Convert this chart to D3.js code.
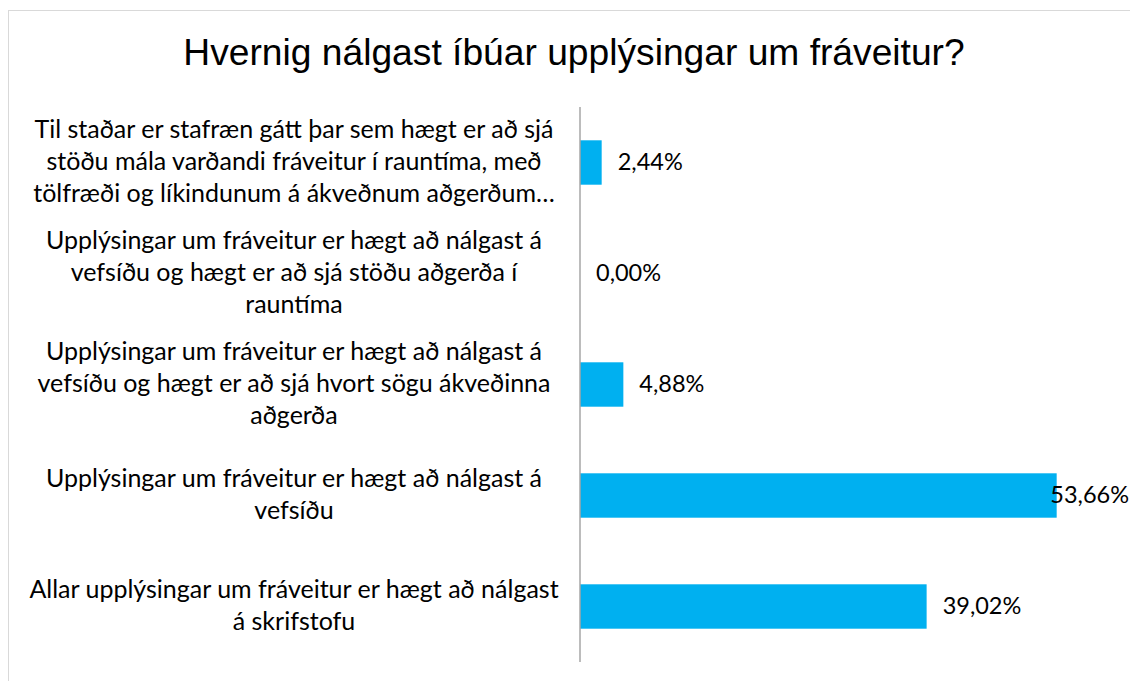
<!DOCTYPE html>
<html>
<head>
<meta charset="utf-8">
<script src="https://cdn.jsdelivr.net/npm/d3@7"></script>
<style>
  html, body { margin: 0; padding: 0; background: #fff; overflow: hidden; }
  svg { display: block; }
</style>
</head>
<body>
<svg id="chart" width="1130" height="681"></svg>
<script>
// Survey answers, one entry per answer option (top to bottom)
const categories = [
  ["Til staðar er stafræn gátt þar sem hægt er að sjá",
   "stöðu mála varðandi fráveitur í rauntíma, með",
   "tölfræði og líkindunum á ákveðnum aðgerðum…"],
  ["Upplýsingar um fráveitur er hægt að nálgast á",
   "vefsíðu og hægt er að sjá stöðu aðgerða í",
   "rauntíma"],
  ["Upplýsingar um fráveitur er hægt að nálgast á",
   "vefsíðu og hægt er að sjá hvort sögu ákveðinna",
   "aðgerða"],
  ["Upplýsingar um fráveitur er hægt að nálgast á",
   "vefsíðu"],
  ["Allar upplýsingar um fráveitur er hægt að nálgast",
   "á skrifstofu"]
];
const values = [2.44, 0.00, 4.88, 53.66, 39.02];
const valueLabels = ["2,44%", "0,00%", "4,88%", "53,66%", "39,02%"];
const xDomain = [0, 60];
const title = "Hvernig nálgast íbúar upplýsingar um fráveitur?";

const W = 1130, H = 681;
const svg = d3.select("#chart");

// chart frame (open to the right and bottom)
svg.append("rect")
  .attr("x", 8.5).attr("y", 10.5)
  .attr("width", W + 20).attr("height", H + 20)
  .attr("fill", "#fff").attr("stroke", "#d9d9d9").attr("stroke-width", 1);

svg.append("text")
  .attr("x", 574).attr("y", 65)
  .attr("text-anchor", "middle")
  .attr("font-family", "'Liberation Sans', Arial, sans-serif")
  .attr("font-size", 37.2)
  .attr("fill", "#000")
  .text(title);

const plotLeft = 580, plotTop = 107, plotBottom = 662;
const x = d3.scaleLinear().domain(xDomain).range([plotLeft, plotLeft + 533]);
const y = d3.scaleBand()
  .domain(d3.range(values.length))
  .range([plotTop, plotBottom])
  .paddingInner(0.6).paddingOuter(0.3);

const labelFont = "Lato, 'Open Sans', sans-serif";
const catSize = 25;
const valSize = 23.5;
const lineH = 32;

// bars
svg.append("g").selectAll("rect")
  .data(values)
  .join("rect")
  .attr("x", x(0))
  .attr("y", (d, i) => y(i))
  .attr("width", d => x(d) - x(0))
  .attr("height", y.bandwidth())
  .attr("fill", "#00B0F0");

// vertical category axis
const yAxis = d3.axisLeft(y).tickSize(0).tickFormat("");
const gAxis = svg.append("g").attr("transform", `translate(${plotLeft},0)`).call(yAxis);
gAxis.select(".domain").attr("stroke", "#a6a6a6").attr("stroke-width", 1.5)
  .attr("d", `M0,${plotTop}V${plotBottom}`);

// category labels, centred multi-line
const labelCx = 294;
const cats = svg.append("g")
  .attr("font-family", labelFont)
  .attr("font-size", catSize)
  .attr("fill", "#000")
  .attr("text-anchor", "middle");
categories.forEach((lines, i) => {
  const cy = y(i) + y.bandwidth() / 2;
  const t = cats.append("text").attr("x", labelCx);
  lines.forEach((ln, j) => {
    t.append("tspan")
      .attr("x", labelCx)
      .attr("y", cy + (j - (lines.length - 1) / 2) * lineH)
      .attr("dy", "0.3em")
      .text(ln);
  });
});

// value labels
const vl = svg.append("g")
  .attr("font-family", labelFont)
  .attr("font-size", valSize)
  .attr("fill", "#000");
values.forEach((v, i) => {
  const t = vl.append("text")
    .attr("y", y(i) + y.bandwidth() / 2)
    .attr("dy", "0.33em")
    .text(valueLabels[i]);
  const w = t.node().getComputedTextLength();
  let lx = x(v) + 16;
  if (lx + w > W) lx = W - w - 1;
  t.attr("x", lx);
});
</script>
</body>
</html>
